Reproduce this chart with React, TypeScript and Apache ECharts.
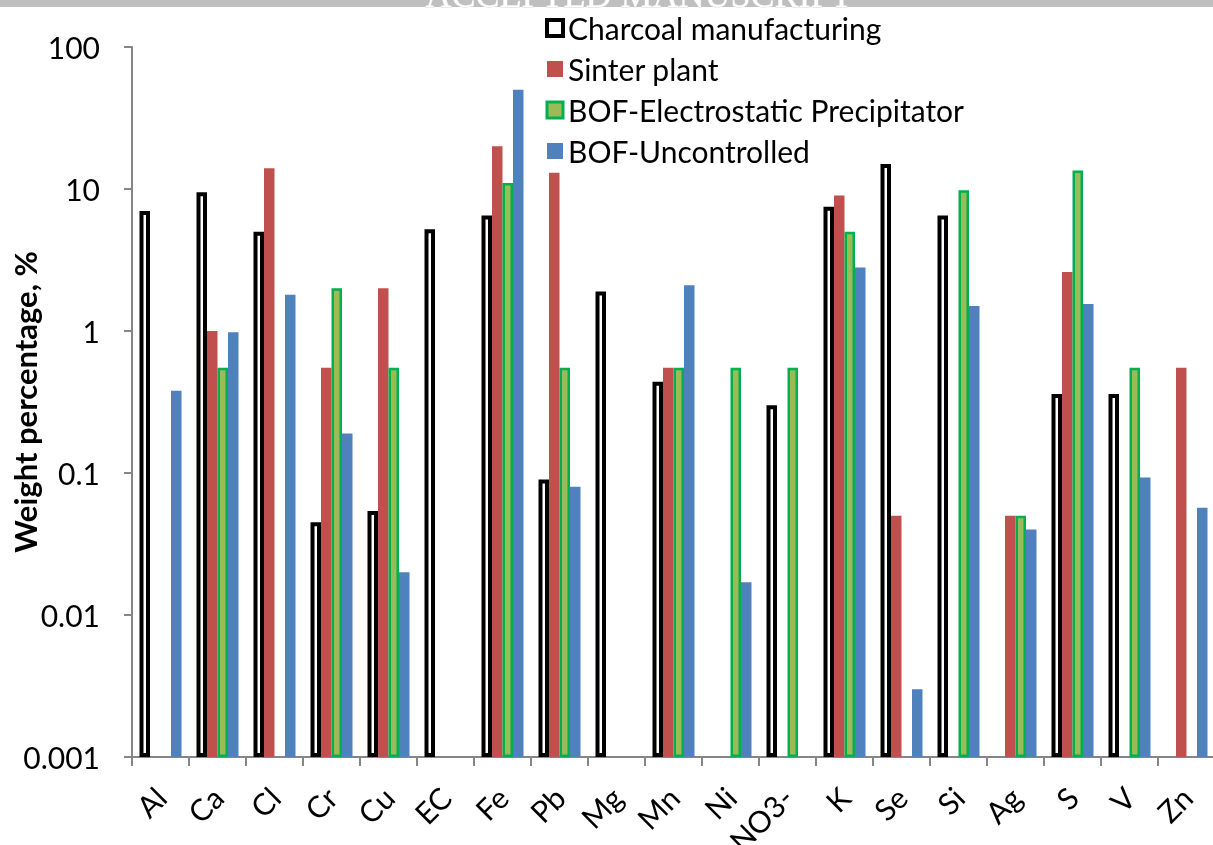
import { useEffect, useRef } from "react";
import * as echarts from "echarts";

const categories = ["Al", "Ca", "Cl", "Cr", "Cu", "EC", "Fe", "Pb", "Mg", "Mn", "Ni", "NO3-", "K", "Se", "Si", "Ag", "S", "V", "Zn"];
const seriesNames = ["Charcoal manufacturing", "Sinter plant", "BOF-Electrostatic Precipitator", "BOF-Uncontrolled"];
const charcoal = [7, 9.5, 5, 0.045, 0.054, 5.2, 6.5, 0.09, 1.9, 0.44, null, 0.3, 7.5, 15, 6.5, null, 0.36, 0.36, null];
const sinter = [null, 1.0, 14, 0.55, 2.0, null, 20, 13, null, 0.55, null, null, 9, 0.05, null, 0.05, 2.6, null, 0.55];
const bofEsp = [null, 0.55, null, 2.0, 0.55, null, 11, 0.55, null, 0.55, 0.55, 0.55, 5, null, 9.8, 0.05, 13.5, 0.55, null];
const bofUnc = [0.38, 0.98, 1.8, 0.19, 0.02, null, 50, 0.08, null, 2.1, 0.017, null, 2.8, 0.003, 1.5, 0.04, 1.55, 0.093, 0.057];
const yTickLabels = ["0.001", "0.01", "0.1", "1", "10", "100"];

export default function App() {
  const ref = useRef<HTMLDivElement>(null);
  useEffect(() => {
    const chart = echarts.init(ref.current!, null, { renderer: "svg" });
    const font = "Lato";
    const fs = 30;
    const axisColor = "#868686";
    const styles = [
      { color: "#ffffff", borderColor: "#000000", borderWidth: 4 },
      { color: "#c0504d", borderWidth: 0 },
      { color: "#9bbb59", borderColor: "#00b050", borderWidth: 2.5 },
      { color: "#4f81bd", borderWidth: 0 },
    ];
    const legendStyles = [
      { color: "#ffffff", borderColor: "#000000", borderWidth: 4 },
      { color: "#c0504d", borderWidth: 0 },
      { color: "#9bbb59", borderColor: "#00b050", borderWidth: 3 },
      { color: "#4f81bd", borderWidth: 0 },
    ];
    const datasets = [charcoal, sinter, bofEsp, bofUnc];
    chart.setOption({
      animation: false,
      textStyle: { fontFamily: font },
      grid: { left: 132, top: 47, width: 1083, height: 710, containLabel: false, outerBoundsMode: "none" },
      legend: {
        orient: "vertical",
        left: 545,
        top: 13,
        padding: 0,
        itemWidth: 16,
        itemHeight: 16,
        itemGap: 11,
        textStyle: { fontFamily: font, fontSize: fs, color: "#000", lineHeight: 30, padding: [0, 0, 0, 0] },
        data: seriesNames.map((n, i) => ({ name: n, icon: "rect", itemStyle: legendStyles[i] })),
      },
      xAxis: {
        type: "category",
        data: categories,
        boundaryGap: true,
        axisLine: { lineStyle: { color: axisColor, width: 2 } },
        axisTick: { show: true, length: 9, lineStyle: { color: axisColor, width: 2 } },
        axisLabel: { rotate: 45, margin: 35, fontSize: fs, color: "#000", interval: 0, fontFamily: font },
      },
      yAxis: {
        type: "log",
        logBase: 10,
        min: 0.001,
        max: 100,
        startValue: 0.001,
        axisLine: { show: true, lineStyle: { color: axisColor, width: 2 } },
        axisTick: { show: true, length: 8, lineStyle: { color: axisColor, width: 2 } },
        splitLine: { show: false },
        axisLabel: {
          margin: 32,
          fontSize: fs,
          color: "#000",
          fontFamily: font,
          formatter: (v: number) => yTickLabels[Math.round(Math.log10(v)) + 3] ?? "",
        },
        name: "Weight percentage, %",
        nameLocation: "middle",
        nameGap: 92,
        nameMoveOverlap: false,
        nameTextStyle: { fontWeight: "bold", fontSize: 31, color: "#000", fontFamily: font },
      },
      series: datasets.map((d, i) => ({
        type: "bar",
        name: seriesNames[i],
        data: d.map((v) => (v == null ? "-" : v)),
        barWidth: 10.5,
        barGap: "0%",
        itemStyle: styles[i],
      })),
      graphic: [
        { type: "rect", left: 0, top: 0, shape: { width: 1213, height: 7 }, style: { fill: "#bfbfbf" }, z: 10 },
        {
          type: "text",
          x: 639,
          y: 13,
          z: 11,
          style: {
            text: "ACCEPTED MANUSCRIPT",
            font: "36px 'Liberation Serif'",
            fill: "#ffffff",
            stroke: "#d8d8d8",
            lineWidth: 1,
            textAlign: "center",
            textVerticalAlign: "bottom",
          },
        },
      ],
    });
    return () => chart.dispose();
  }, []);
  return <div ref={ref} style={{ position: "fixed", left: 0, top: 0, width: 1213, height: 845 }} />;
}
